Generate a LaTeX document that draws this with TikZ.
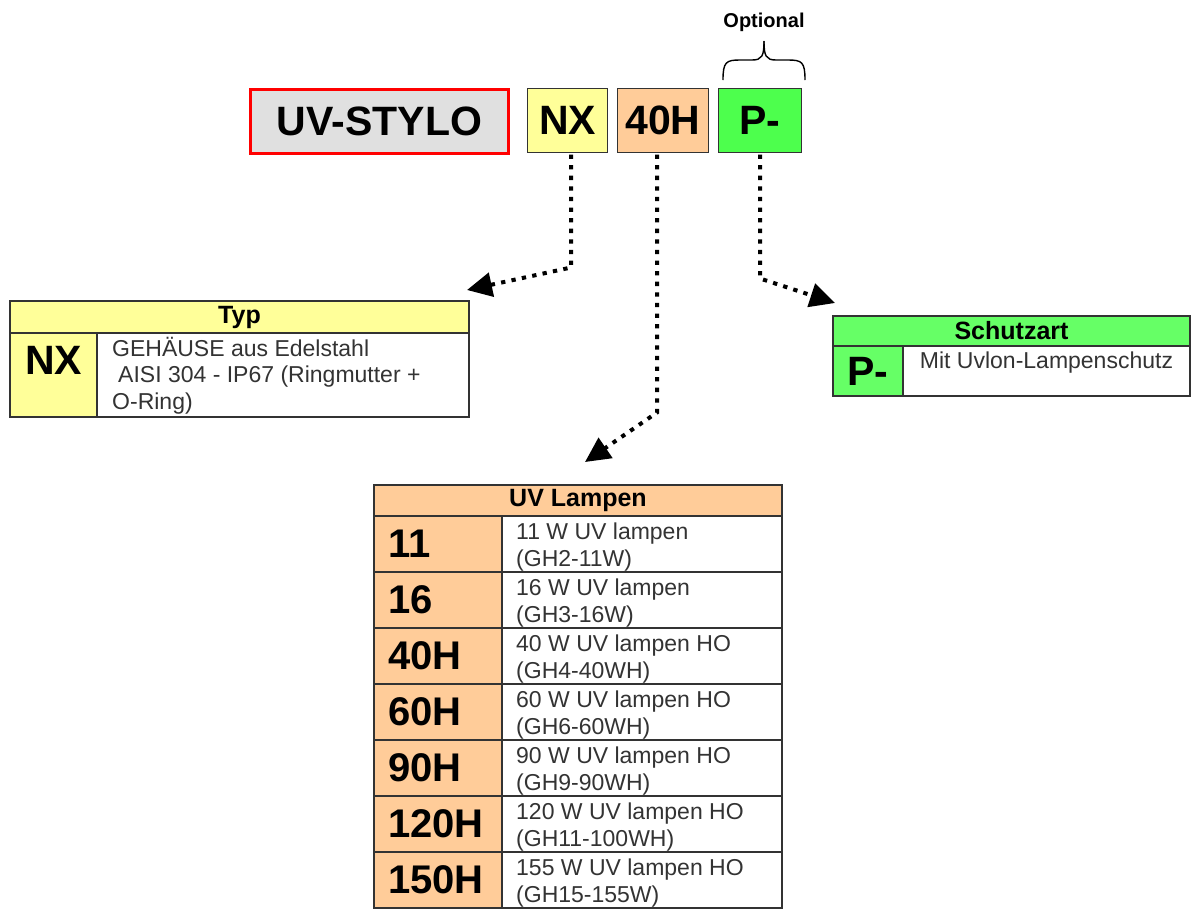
\documentclass[tikz,border=0pt]{standalone}
\usepackage{fontspec}
\setmainfont{Liberation Sans}
\usetikzlibrary{arrows.meta,calc}
\definecolor{ffff99}{HTML}{FFFF99}
\definecolor{ffcc99}{HTML}{FFCC99}
\definecolor{66ff66}{HTML}{66FF66}
\definecolor{4dff4d}{HTML}{4DFF4D}
\definecolor{e0e0e0}{HTML}{E0E0E0}

\begin{document}
\begin{tikzpicture}[x=1pt,y=-1pt,
    cell/.style={draw=black!80,line width=1.2pt,outer sep=0pt,anchor=north west},
    big/.style={font=\fontsize{41}{41}\selectfont\bfseries},
    head/.style={font=\fontsize{25}{25}\selectfont\bfseries},
    txt/.style={font=\fontsize{23}{26.5}\selectfont,text=black!80,align=left,inner sep=0pt,anchor=north west},
    key/.style={font=\fontsize{40}{40}\selectfont\bfseries,align=left,text width=100pt,inner xsep=14pt,inner ysep=0pt},
    link/.style={line width=4pt,dash pattern=on 4.3pt off 6.3pt,-{Triangle[length=25pt,width=24pt]}}]
    \path[use as bounding box,fill=white](0,0)rectangle(1192,911);
    % code
    \node[draw=red,line width=3pt,fill=e0e0e0,minimum width=258pt,minimum height=64pt,outer sep=0pt,anchor=north west,big](stylo)at(250.5,89.5){UV-STYLO};
    \node[cell,fill=ffff99,minimum width=80pt,minimum height=64pt,big](nx)at(527.5,88.5){NX};
    \node[cell,fill=ffcc99,minimum width=91pt,minimum height=64pt,big](lampe)at(617.5,88.5){40H};
    \node[cell,fill=4dff4d,minimum width=83pt,minimum height=64pt,big](schutz)at(718.5,88.5){P-};
    \coordinate(tip)at(764,41);
    \draw[line width=1.4pt](723,80)..controls(723,62)and(726,60)..(740,60)--(752,60)..controls(762,60)and(764,56)..(tip);
    \draw[line width=1.4pt](805,80)..controls(805,62)and(802,60)..(788,60)--(776,60)..controls(766,60)and(764,56)..(tip);
    \node[font=\fontsize{20}{20}\selectfont\bfseries,inner sep=0pt,anchor=south](optional)at($(tip)+(0,-9)$){Optional};
    % Typ
    \node[cell,fill=ffff99,minimum width=459pt,minimum height=32pt,head](typhead)at(10,301){Typ};
    \node[cell,fill=ffff99,minimum width=87pt,minimum height=84pt](typkey)at(typhead.south west){};
    \node[cell,minimum width=372pt,minimum height=84pt](typdesc)at(typkey.north east){};
    \node[big](typnx)at($(typkey.north)+(0,27)$){NX};
    \node[txt](typtxt)at($(typdesc.north west)+(15,4)$){GEHÄUSE aus Edelstahl\\\hspace*{6pt}AISI 304 - IP67 (Ringmutter +\\O-Ring)};
    % Schutzart
    \node[cell,fill=66ff66,minimum width=357pt,minimum height=30pt,head](schhead)at(833,316){Schutzart};
    \node[cell,fill=66ff66,minimum width=70pt,minimum height=50pt,big](schkey)at(schhead.south west){P-};
    \node[cell,minimum width=287pt,minimum height=50pt](schdesc)at(schkey.north east){};
    \node[txt,anchor=north](schtxt)at($(schdesc.north)+(0,6)$){Mit Uvlon-Lampenschutz};
    % UV Lampen
    \node[cell,fill=ffcc99,minimum width=408pt,minimum height=31pt,head](uvhead)at(374,485){UV Lampen};
    \node[cell,fill=ffcc99,minimum width=128pt,minimum height=56pt,key](k1)at(uvhead.south west){11};
    \node[cell,minimum width=280pt,minimum height=56pt](d1)at(k1.north east){};
    \node[txt](t1)at($(d1.north west)+(14,7)$){11 W UV lampen\\(GH2-11W)};
    \node[cell,fill=ffcc99,minimum width=128pt,minimum height=56pt,key](k2)at(k1.south west){16};
    \node[cell,minimum width=280pt,minimum height=56pt](d2)at(k2.north east){};
    \node[txt](t2)at($(d2.north west)+(14,7)$){16 W UV lampen\\(GH3-16W)};
    \node[cell,fill=ffcc99,minimum width=128pt,minimum height=56pt,key](k3)at(k2.south west){40H};
    \node[cell,minimum width=280pt,minimum height=56pt](d3)at(k3.north east){};
    \node[txt](t3)at($(d3.north west)+(14,7)$){40 W UV lampen HO\\(GH4-40WH)};
    \node[cell,fill=ffcc99,minimum width=128pt,minimum height=56pt,key](k4)at(k3.south west){60H};
    \node[cell,minimum width=280pt,minimum height=56pt](d4)at(k4.north east){};
    \node[txt](t4)at($(d4.north west)+(14,7)$){60 W UV lampen HO\\(GH6-60WH)};
    \node[cell,fill=ffcc99,minimum width=128pt,minimum height=56pt,key](k5)at(k4.south west){90H};
    \node[cell,minimum width=280pt,minimum height=56pt](d5)at(k5.north east){};
    \node[txt](t5)at($(d5.north west)+(14,7)$){90 W UV lampen HO\\(GH9-90WH)};
    \node[cell,fill=ffcc99,minimum width=128pt,minimum height=56pt,key](k6)at(k5.south west){120H};
    \node[cell,minimum width=280pt,minimum height=56pt](d6)at(k6.north east){};
    \node[txt](t6)at($(d6.north west)+(14,7)$){120 W UV lampen HO\\(GH11-100WH)};
    \node[cell,fill=ffcc99,minimum width=128pt,minimum height=56pt,key](k7)at(k6.south west){150H};
    \node[cell,minimum width=280pt,minimum height=56pt](d7)at(k7.north east){};
    \node[txt](t7)at($(d7.north west)+(14,7)$){155 W UV lampen HO\\(GH15-155W)};
    % Pfeile
    \draw[link]($(nx.south)+(3.5,2)$)--++(0,113)--($(typhead.north east)+(-2,-11)$);
    \draw[link]($(lampe.south)+(-6,2)$)--++(0,258)--($(uvhead.north)+(7,-23)$);
    \draw[link]($(schutz.south)+(0,2)$)--++(0,124)--($(schhead.north west)+(2,-13)$);
\end{tikzpicture}
\end{document}
